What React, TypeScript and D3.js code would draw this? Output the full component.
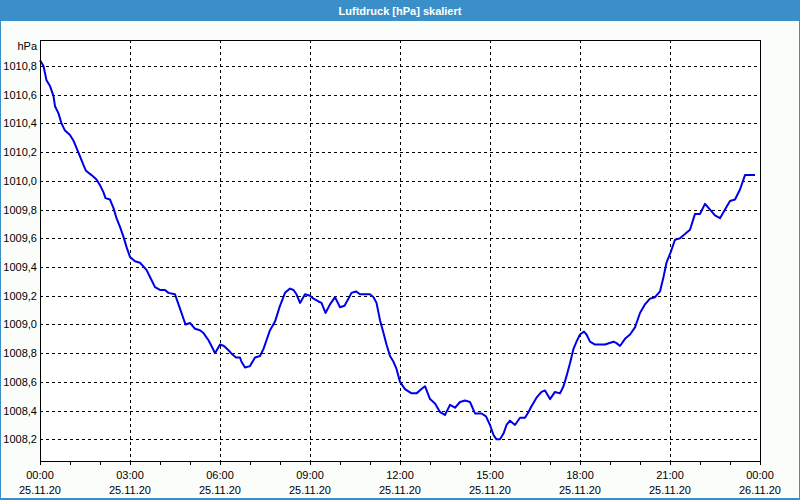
import React from "react";
import * as d3 from "d3";

const title = "Luftdruck [hPa] skaliert";
const yUnit = "hPa";
// minutes since 25.11.20 00:00
const minutes = [
  0, 7, 13, 20, 27, 30, 37, 43, 50, 60, 67, 73, 80, 87, 92, 103, 113, 120, 127, 131,
  140, 147, 153, 160, 167, 173, 180, 190, 200, 213, 223, 230, 240, 250, 257, 270, 273, 280, 287, 291,
  300, 305, 310, 320, 327, 337, 343, 350, 360, 368, 377, 385, 392, 400, 403, 410, 420, 430, 440, 447,
  453, 460, 470, 479, 490, 500, 507, 513, 520, 530, 540, 547, 557, 563, 571, 580, 590, 600, 609, 617,
  623, 632, 640, 660, 667, 673, 680, 687, 693, 700, 707, 713, 720, 730, 743, 753, 763, 770, 780, 790,
  800, 810, 820, 830, 840, 850, 860, 870, 883, 892, 900, 907, 913, 920, 927, 933, 940, 950, 960, 970,
  977, 983, 993, 1003, 1010, 1020, 1030, 1040, 1047, 1053, 1060, 1067, 1073, 1080, 1088, 1093, 1100, 1110, 1130, 1147,
  1153, 1160, 1170, 1180, 1190, 1200, 1210, 1220, 1230, 1240, 1247, 1253, 1261, 1270, 1280, 1290, 1300, 1310, 1320, 1330,
  1340, 1350, 1360, 1370, 1380, 1390, 1400, 1410, 1417, 1430,
];
const pressure = [
  1010.84, 1010.8, 1010.7, 1010.66, 1010.59, 1010.52, 1010.47, 1010.4, 1010.35, 1010.32, 1010.28, 1010.23, 1010.17, 1010.11, 1010.07, 1010.04, 1010.01, 1009.97, 1009.92, 1009.88,
  1009.87, 1009.81, 1009.74, 1009.68, 1009.61, 1009.54, 1009.47, 1009.44, 1009.43, 1009.38, 1009.31, 1009.26, 1009.24, 1009.24, 1009.22, 1009.21, 1009.18, 1009.11, 1009.04, 1009.0,
  1009.01, 1008.99, 1008.97, 1008.96, 1008.94, 1008.89, 1008.85, 1008.8, 1008.86, 1008.85, 1008.82, 1008.79, 1008.77, 1008.77, 1008.74, 1008.7, 1008.71, 1008.77, 1008.78, 1008.83,
  1008.89, 1008.96, 1009.02, 1009.12, 1009.22, 1009.25, 1009.24, 1009.21, 1009.15, 1009.21, 1009.2, 1009.18, 1009.16, 1009.15, 1009.08, 1009.14, 1009.19, 1009.12, 1009.13, 1009.18,
  1009.22, 1009.23, 1009.21, 1009.21, 1009.19, 1009.15, 1009.03, 1008.94, 1008.86, 1008.78, 1008.74, 1008.69, 1008.6, 1008.55, 1008.52, 1008.52, 1008.55, 1008.57, 1008.48, 1008.45,
  1008.39, 1008.37, 1008.44, 1008.42, 1008.46, 1008.47, 1008.46, 1008.38, 1008.38, 1008.36, 1008.3, 1008.23, 1008.2, 1008.2, 1008.24, 1008.3, 1008.33, 1008.3, 1008.35, 1008.35,
  1008.39, 1008.43, 1008.49, 1008.53, 1008.54, 1008.48, 1008.53, 1008.52, 1008.57, 1008.64, 1008.73, 1008.83, 1008.88, 1008.93, 1008.95, 1008.93, 1008.88, 1008.86, 1008.86, 1008.88,
  1008.87, 1008.85, 1008.9, 1008.93, 1008.98, 1009.08, 1009.14, 1009.18, 1009.19, 1009.23, 1009.33, 1009.43, 1009.5, 1009.59, 1009.6, 1009.63, 1009.66, 1009.77, 1009.77, 1009.84,
  1009.8, 1009.76, 1009.74, 1009.8, 1009.86, 1009.87, 1009.94, 1010.04, 1010.04, 1010.04,
];
const yTicks = [1008.2, 1008.4, 1008.6, 1008.8, 1009.0, 1009.2, 1009.4, 1009.6, 1009.8, 1010.0, 1010.2, 1010.4, 1010.6, 1010.8];
const xTickHours = [0, 3, 6, 9, 12, 15, 18, 21, 24];
const xTimeLabels = ["00:00", "03:00", "06:00", "09:00", "12:00", "15:00", "18:00", "21:00", "00:00"];
const xDateLabels = ["25.11.20", "25.11.20", "25.11.20", "25.11.20", "25.11.20", "25.11.20", "25.11.20", "25.11.20", "26.11.20"];
const yDomain = [1008.049, 1010.981];

const W = 800, H = 500;
const L = 40, R = 760, T = 40, B = 461;
const FONT = "'Liberation Sans', Arial, sans-serif";

export default function App() {
  const x = d3.scaleLinear().domain([0, 24]).range([L, R]);
  const y = d3.scaleLinear().domain(yDomain).range([B, T]);
  const pts = minutes.map((m, i) => [m / 60, pressure[i]] as [number, number]);
  const line = d3.line<[number, number]>().x((d) => x(d[0])).y((d) => y(d[1]));
  const hours = d3.range(0, 25);
  const fmt = (v: number) => v.toFixed(1).replace(".", ",");
  return (
    <svg width={W} height={H} style={{ position: "fixed", left: 0, top: 0 }} fontFamily={FONT}>
      <rect x={0} y={0} width={W} height={H} fill="#fbfdfb" />
      <rect x={0.5} y={0.5} width={W - 1} height={H - 1} fill="none" stroke="#3b8fc8" strokeWidth={1} />
      <rect x={1} y={498} width={W - 2} height={1} fill="#3b8fc8" />
      <rect x={0} y={0} width={W} height={21} fill="#3b8fc8" />
      <text x={W / 2} y={15} textAnchor="middle" fill="#ffffff" fontWeight="bold" fontSize={11}>{title}</text>
      <rect x={L} y={T} width={R - L} height={B - T} fill="#ffffff" />
      <g shapeRendering="crispEdges" stroke="#000" strokeDasharray="3,3" strokeWidth={1}>
        {yTicks.map((v) => (
          <line key={v} x1={L} x2={R} y1={Math.round(y(v)) + 0.5} y2={Math.round(y(v)) + 0.5} />
        ))}
        {xTickHours.slice(1, -1).map((h) => (
          <line key={h} x1={Math.round(x(h)) + 0.5} x2={Math.round(x(h)) + 0.5} y1={T} y2={B} />
        ))}
      </g>
      <path d={line(pts) || ""} fill="none" stroke="#0000e6" strokeWidth={2} strokeLinejoin="round" />
      <g shapeRendering="crispEdges" stroke="#000" strokeWidth={1}>
        <rect x={L + 0.5} y={T + 0.5} width={R - L} height={B - T} fill="none" />
        {hours.map((h) => (
          <line key={h} x1={Math.round(x(h)) + 0.5} x2={Math.round(x(h)) + 0.5} y1={B} y2={B + 4} />
        ))}
      </g>
      <g fontSize={11} fill="#000">
        <text x={37} y={50} textAnchor="end">{yUnit}</text>
        {yTicks.map((v) => (
          <text key={v} x={37} y={y(v) + 4} textAnchor="end">{fmt(v)}</text>
        ))}
        {xTickHours.map((h, i) => (
          <g key={h}>
            <text x={x(h)} y={479} textAnchor="middle">{xTimeLabels[i]}</text>
            <text x={x(h)} y={494} textAnchor="middle">{xDateLabels[i]}</text>
          </g>
        ))}
      </g>
    </svg>
  );
}
